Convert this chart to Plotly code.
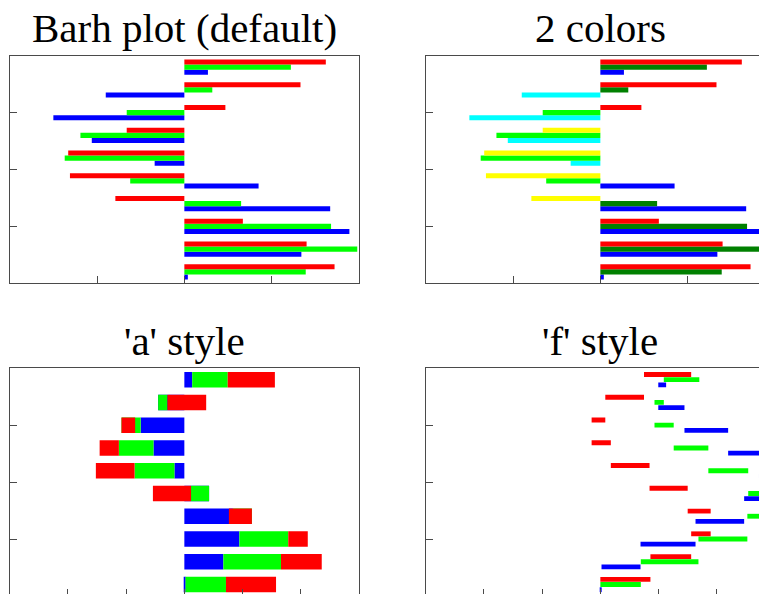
import numpy as np
import plotly.graph_objects as go
from plotly.subplots import make_subplots

# ---------------- data ----------------
groups = list(range(1, 11))
blue  = [0.04, 1.34, 1.89, 1.67, 0.85, -0.34, -1.06, -1.50, -0.90, 0.27]
green = [1.39, 1.98, 1.68, 0.65, -0.62, -1.37, -1.19, -0.66, 0.32, 1.22]
red   = [1.72, 1.40, 0.67, -0.79, -1.31, -1.33, -0.66, 0.47, 1.33, 1.62]
titles = ["Barh plot (default)", "2 colors", "'a' style", "'f' style"]

series = [("blue", blue), ("green", green), ("red", red)]
base_colors = {"blue": "#0000ff", "green": "#00ff00", "red": "#ff0000"}
pos_colors = {"blue": "#0000ff", "green": "#008000", "red": "#ff0000"}
neg_colors = {"blue": "#00ffff", "green": "#00ff00", "red": "#ffff00"}

# ---------------- geometry (pixels, screen minus 8px page margin) ----------------
OFF = 8
W, H = 800, 620
L1 = 9.7 - OFF
PW = 349.3
L2 = 425.7 - OFF
T1 = 55.7 - OFF
PH = 227.6
T2 = 368.3 - OFF

def xd(a):
    return [a / W, (a + PW) / W]

def yd(top):
    return [1 - (top + PH) / H, 1 - top / H]

fig = make_subplots(rows=2, cols=2)

bw = 0.225
offs = {"blue": -1.5 * bw, "green": -0.5 * bw, "red": 0.5 * bw}

# panel 1: grouped
for name, vals in series:
    fig.add_trace(go.Bar(y=groups, x=vals, orientation="h", base=0,
                         offset=offs[name], width=bw,
                         marker=dict(color=base_colors[name], line=dict(width=0)),
                         showlegend=False), row=1, col=1)

# panel 2: two colors
for name, vals in series:
    cols = [pos_colors[name] if v >= 0 else neg_colors[name] for v in vals]
    fig.add_trace(go.Bar(y=groups, x=vals, orientation="h", base=0,
                         offset=offs[name], width=bw,
                         marker=dict(color=cols, line=dict(width=0)),
                         showlegend=False), row=1, col=2)

# panel 3: 'a' style (cumulative within group)
cum = np.zeros(len(groups))
for name, vals in series:
    v = np.array(vals)
    fig.add_trace(go.Bar(y=groups, x=v, orientation="h", base=cum.copy(),
                         offset=-0.34, width=0.68,
                         marker=dict(color=base_colors[name], line=dict(width=0)),
                         showlegend=False), row=2, col=1)
    cum = cum + v

# panel 4: 'f' style (cumulative along groups for each series)
fw = 0.213
fstep = 0.228
foffs = {"blue": -1.5 * fstep, "green": -0.5 * fstep, "red": 0.5 * fstep}
for name, vals in series:
    v = np.array(vals)
    c = np.cumsum(v)
    fig.add_trace(go.Bar(y=groups, x=v, orientation="h", base=c - v,
                         offset=foffs[name] + (fstep - fw) / 2, width=fw,
                         marker=dict(color=base_colors[name], line=dict(width=0)),
                         showlegend=False), row=2, col=2)

axcol = "#4a4a4a"
common = dict(showline=True, linecolor=axcol, linewidth=1.3, ticks="inside",
              ticklen=7, tickwidth=1, tickcolor=axcol, showgrid=False,
              zeroline=False, showticklabels=False, mirror=True)

yt = [0.5, 3, 5.5, 8, 10.5]
fig.update_layout(
    xaxis=dict(common, domain=xd(L1), range=[-2, 2], tickvals=[-2, -1, 0, 1, 2]),
    yaxis=dict(common, domain=yd(T1), range=[0.5, 10.5], tickvals=yt),
    xaxis2=dict(common, domain=xd(L2), range=[-2, 2], tickvals=[-2, -1, 0, 1, 2]),
    yaxis2=dict(common, domain=yd(T1), range=[0.5, 10.5], tickvals=yt),
    xaxis3=dict(common, domain=xd(L1), range=[-6, 6], tickvals=[-6, -4, -2, 0, 2, 4, 6]),
    yaxis3=dict(common, domain=yd(T2), range=[0.5, 10.5], tickvals=yt),
    xaxis4=dict(common, domain=xd(L2), range=[-6, 6], tickvals=[-6, -4, -2, 0, 2, 4, 6]),
    yaxis4=dict(common, domain=yd(T2), range=[0.5, 10.5], tickvals=yt),
    barmode="overlay",
    width=W, height=H,
    margin=dict(l=0, r=0, t=0, b=0),
    plot_bgcolor="white", paper_bgcolor="white",
)

title_font = dict(family="Liberation Serif", size=41, color="black")
centers = [(L1 + PW / 2, T1), (L2 + PW / 2, T1), (L1 + PW / 2, T2), (L2 + PW / 2, T2)]
for t, (cx, top) in zip(titles, centers):
    fig.add_annotation(text=t, x=cx / W, y=1 - (top - 27.5) / H, xref="paper", yref="paper",
                       xanchor="center", yanchor="middle", showarrow=False,
                       borderpad=0, font=title_font)

fig.write_html("out.html")
